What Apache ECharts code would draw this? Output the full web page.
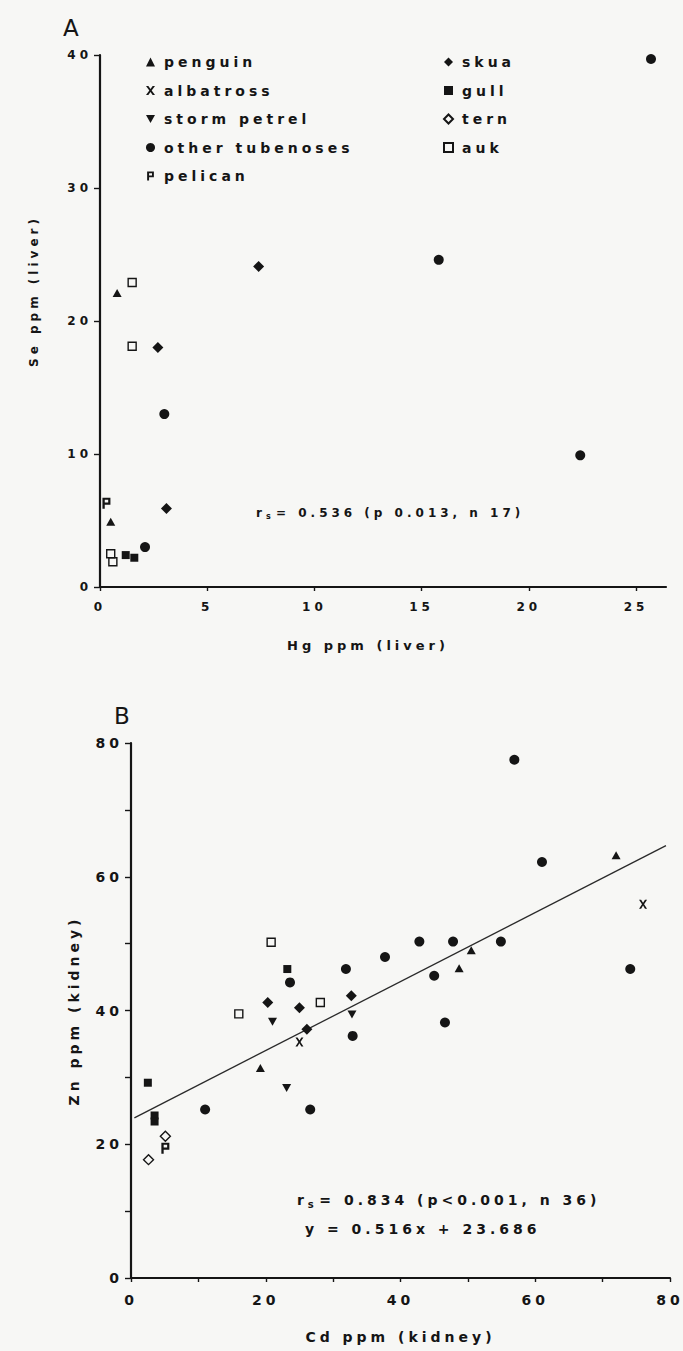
<!DOCTYPE html>
<html>
<head>
<meta charset="utf-8">
<script src="https://cdn.jsdelivr.net/npm/echarts@6/dist/echarts.min.js"></script>
<style>
  html, body { margin: 0; padding: 0; background: #f7f7f5; }
  #chart { width: 683px; height: 1351px; }
  /* wide, typewriter-like spacing of the lettering */
  #chart svg text { letter-spacing: 4px; }
</style>
</head>
<body>
<div id="chart"></div>
<script>
// ---- Panel A: liver, Hg ppm (x) against Se ppm (y) ----
const liverPenguin     = [[0.8, 22.1], [0.5, 4.9]];
const liverAlbatross   = [];
const liverStormPetrel = [];
const liverTubenoses   = [[3.0, 13.0], [2.1, 3.0], [15.8, 24.6], [22.4, 9.9], [25.7, 39.7]];
const liverPelican     = [[0.3, 6.3]];
const liverSkua        = [[2.7, 18.0], [3.1, 5.9], [7.4, 24.1]];
const liverGull        = [[1.2, 2.4], [1.6, 2.2]];
const liverTern        = [];
const liverAuk         = [[1.5, 22.9], [1.5, 18.1], [0.5, 2.5], [0.6, 1.9]];

// ---- Panel B: kidney, Cd ppm (x) against Zn ppm (y) ----
const kidneyPenguin     = [[19.2, 31.4], [50.5, 49.0], [48.7, 46.3], [72.0, 63.2]];
const kidneyAlbatross   = [[25.0, 35.3], [76.0, 55.9]];
const kidneyStormPetrel = [[21.0, 38.3], [32.8, 39.4], [23.1, 28.4]];
const kidneyTubenoses   = [[23.6, 44.2], [31.9, 46.2], [37.7, 48.0], [32.9, 36.2], [56.9, 77.5],
                           [61.0, 62.2], [74.1, 46.2], [42.8, 50.3], [47.8, 50.3], [54.9, 50.3],
                           [45.0, 45.2], [46.6, 38.2], [11.0, 25.2], [26.6, 25.2]];
const kidneyPelican     = [[5.1, 19.4]];
const kidneySkua        = [[20.3, 41.2], [25.0, 40.4], [32.7, 42.2], [26.1, 37.2]];
const kidneyGull        = [[23.2, 46.2], [2.5, 29.2], [3.5, 24.3], [3.5, 23.4]];
const kidneyTern        = [[2.6, 17.7], [5.1, 21.2]];
const kidneyAuk         = [[20.8, 50.2], [16.0, 39.5], [28.1, 41.2]];

// fitted line for panel B and the stated statistics
const fitSlope = 0.516;
const fitIntercept = 23.686;
const fitRange = [0.5, 79.4];
const statsLiver  = '= 0.536 (p 0.013, n 17)';
const statsKidney = '= 0.834 (p<0.001, n 36)';
const fitText = 'y = 0.516x + 23.686';

// tick labels
const liverXTicks  = [0, 5, 10, 15, 20, 25];
const liverYTicks  = [0, 10, 20, 30, 40];

const INK = '#151515';
const FONT = 'DejaVu Sans';

// marker shapes
const SYM = {
  triangle: 'triangle',
  cross: 'path://M0,0H2.6L5,3.4L7.4,0H10L6.3,5L10,10H7.4L5,6.6L2.6,10H0L3.7,5Z',
  down: 'path://M0,0L10,0L5,9Z',
  circle: 'circle',
  pelican: 'path://M0,0H9V7.6H2.6V12H0Z M2.6,2.3V5.3H6.5V2.3Z',
  diamond: 'diamond',
  square: 'rect'
};

const species = [
  { name: 'penguin',          symbol: SYM.triangle, size: [9, 8],   open: false, liver: liverPenguin,     kidney: kidneyPenguin },
  { name: 'albatross',        symbol: SYM.cross,    size: [8, 9],   open: false, liver: liverAlbatross,   kidney: kidneyAlbatross },
  { name: 'storm petrel',     symbol: SYM.down,     size: [9, 8],   open: false, liver: liverStormPetrel, kidney: kidneyStormPetrel },
  { name: 'other tubenoses',  symbol: SYM.circle,   size: 10,       open: false, liver: liverTubenoses,   kidney: kidneyTubenoses },
  { name: 'pelican',          symbol: SYM.pelican,  size: [8, 11],  open: false, liver: liverPelican,     kidney: kidneyPelican },
  { name: 'skua',             symbol: SYM.diamond,  size: 11,       open: false, liver: liverSkua,        kidney: kidneySkua },
  { name: 'gull',             symbol: SYM.square,   size: 8,        open: false, liver: liverGull,        kidney: kidneyGull },
  { name: 'tern',             symbol: SYM.diamond,  size: 10,       open: true,  liver: liverTern,        kidney: kidneyTern },
  { name: 'auk',              symbol: SYM.square,   size: 8,        open: true,  liver: liverAuk,         kidney: kidneyAuk }
];

function markerStyle(sp) {
  return sp.open
    ? { color: 'transparent', borderColor: INK, borderWidth: 1.4, opacity: 1 }
    : { color: INK, borderWidth: 0, opacity: 1 };
}

const series = [];
species.forEach(sp => {
  ['liver', 'kidney'].forEach((organ, gi) => {
    series.push({
      type: 'scatter',
      name: sp.name,
      xAxisIndex: gi,
      yAxisIndex: gi,
      data: sp[organ],
      symbol: sp.symbol,
      symbolSize: sp.size,
      itemStyle: markerStyle(sp),
      z: 3
    });
  });
});

series.push({
  type: 'line',
  name: 'fit',
  xAxisIndex: 1,
  yAxisIndex: 1,
  data: fitRange.map(x => [x, fitSlope * x + fitIntercept]),
  symbol: 'none',
  silent: true,
  lineStyle: { color: '#2a2a2a', width: 1.3 },
  z: 2
});

function axisBase(fontSize) {
  return {
    type: 'value',
    splitLine: { show: false },
    axisLine: { show: true, onZero: false, lineStyle: { color: INK, width: 2.2 } },
    axisTick: { show: true, inside: false, length: 5, lineStyle: { color: INK, width: 1.4 } },
    axisLabel: { color: INK, fontFamily: FONT, fontWeight: 'bold', fontSize: fontSize },
    nameTextStyle: { color: INK, fontFamily: FONT, fontWeight: 'bold', fontSize: 13 }
  };
}

const xA = Object.assign(axisBase(12), {
  gridIndex: 0, min: 0, max: 26.4, interval: 5,
  name: 'Hg ppm (liver)', nameLocation: 'middle', nameGap: 52
});
xA.axisTick.customValues = liverXTicks;
xA.axisTick.length = 4;
xA.axisLabel.customValues = liverXTicks;
xA.axisLabel.margin = 14;
xA.nameTextStyle = Object.assign({}, xA.nameTextStyle, { padding: [0, 30, 0, 0] });

const yA = Object.assign(axisBase(12), {
  gridIndex: 0, min: 0, max: 40, interval: 10,
  name: 'Se ppm (liver)', nameLocation: 'middle', nameGap: 60
});
yA.axisTick.customValues = liverYTicks;
yA.axisLabel.customValues = liverYTicks;
yA.axisTick.length = 6;
yA.axisLabel.margin = 8;
yA.nameTextStyle = Object.assign({}, yA.nameTextStyle, { fontSize: 12, padding: [0, 0, 0, 60] });

const evenLabel = v => (v % 20 === 0 ? String(v) : '');

const xB = Object.assign(axisBase(14), {
  gridIndex: 1, min: 0, max: 80, interval: 10,
  name: 'Cd ppm (kidney)', nameLocation: 'middle', nameGap: 52
});
xB.axisTick.length = 4;
xB.axisLabel.formatter = evenLabel;
xB.axisLabel.margin = 15;
xB.nameTextStyle = Object.assign({}, xB.nameTextStyle, { fontSize: 14 });

const yB = Object.assign(axisBase(14), {
  gridIndex: 1, min: 0, max: 80, interval: 10,
  name: 'Zn ppm (kidney)', nameLocation: 'middle', nameGap: 50
});
yB.axisTick.length = 6;
yB.axisLabel.formatter = evenLabel;
yB.axisLabel.margin = 8;
yB.nameTextStyle = Object.assign({}, yB.nameTextStyle, { fontSize: 14 });

const legendText = { color: INK, fontFamily: FONT, fontWeight: 'bold', fontSize: 14, lineHeight: 14, padding: [0, 0, 0, 4] };

function legendColumn(names, left) {
  return {
    data: names,
    orient: 'vertical',
    left: left,
    top: 50,
    itemWidth: 9,
    itemHeight: 9,
    itemGap: 14.5,
    selectedMode: false,
    textStyle: legendText
  };
}

// r with a subscript s, then the rest of the statement, as three separate texts
function statsLine(x, y, size, rest) {
  const sub = Math.round(size * 0.68);
  const rW = size * 0.45 + 4.5;
  const sW = sub * 0.7 + 4.5;
  const font = w => 'bold ' + w + 'px "DejaVu Sans"';
  return [
    { type: 'text', x: x, y: y, style: { text: 'r', fill: INK, font: font(size), verticalAlign: 'middle' } },
    { type: 'text', x: x + rW, y: y + size * 0.3, style: { text: 's', fill: INK, font: font(sub), verticalAlign: 'middle' } },
    { type: 'text', x: x + rW + sW, y: y, style: { text: rest, fill: INK, font: font(size), verticalAlign: 'middle' } }
  ];
}

const option = {
  backgroundColor: '#f7f7f5',
  animation: false,
  textStyle: { fontFamily: FONT },
  grid: [
    { left: 100, top: 55, width: 566, height: 532 },
    { left: 131, top: 743, width: 539, height: 535 }
  ],
  xAxis: [xA, xB],
  yAxis: [yA, yB],
  legend: [
    legendColumn(['penguin', 'albatross', 'storm petrel', 'other tubenoses', 'pelican'], 141),
    legendColumn(['skua', 'gull', 'tern', 'auk'], 438)
  ],
  graphic: [
    { type: 'text', left: 63, top: 16, style: { text: 'A', fill: INK, font: '23px "DejaVu Sans"' } },
    { type: 'text', left: 114, top: 704, style: { text: 'B', fill: INK, font: '23px "DejaVu Sans"' } },
    ...statsLine(256, 513, 12, statsLiver),
    ...statsLine(297, 1200, 14, statsKidney),
    {
      type: 'text', x: 305, y: 1229,
      style: { text: fitText, fill: INK, verticalAlign: 'middle', font: 'bold 14px "DejaVu Sans"' }
    }
  ],
  series: series
};

const chart = echarts.init(document.getElementById('chart'), null, { renderer: 'svg' });
chart.setOption(option);
</script>
</body>
</html>
